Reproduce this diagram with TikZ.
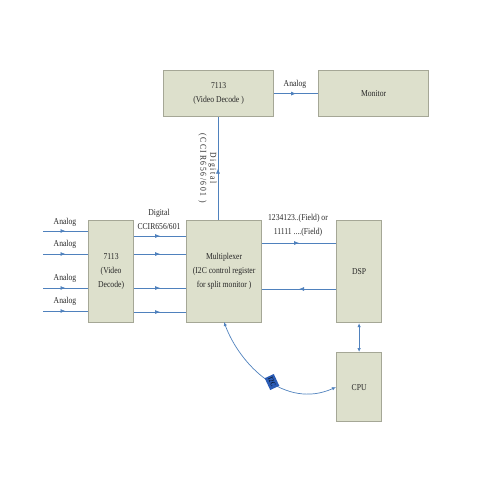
\documentclass[tikz,border=0pt]{standalone}
\usepackage{fontspec}
\setmainfont[FakeStretch=0.85]{Liberation Serif}
\usetikzlibrary{decorations.markings,arrows.meta}
\tikzset{
  blockbox/.style={draw=boxedge, line width=1.2pt, fill=boxfill, inner sep=0pt, anchor=north west,
    align=center, text=black!85, font=\fontsize{9}{14}\selectfont},
  signal/.style={draw=wire, line width=0.7pt, postaction={decorate},
    decoration={markings, mark=at position 0.5 with {\arrow{Latex[length=5pt,width=4pt]}}}},
  bothway/.style={draw=wire, line width=0.7pt, {Latex[length=4pt,width=3.5pt]}-{Latex[length=4pt,width=3.5pt]}},
  siglabel/.style={font=\fontsize{9}{14}\selectfont, align=center, text=black!85, inner sep=0pt}
}
\definecolor{boxfill}{HTML}{DDE0CC}
\definecolor{boxedge}{HTML}{A5A796}
\definecolor{wire}{HTML}{4F81BD}
\definecolor{badge}{HTML}{2B5CB5}
\begin{document}
\begin{tikzpicture}[x=1pt, y=-1pt]
  \useasboundingbox (0,0) rectangle (480,480);

  % the blocks
  \node[blockbox, minimum width=110pt, minimum height=46pt] (top) at (163,70) {7113\\(Video Decode )};
  \node[blockbox, minimum width=110pt, minimum height=46pt] (monitor) at (318,70) {Monitor};
  \node[blockbox, minimum width=45pt, minimum height=102pt] (decode) at (88,220) {7113\\(Video\\Decode)};
  \node[blockbox, minimum width=75pt, minimum height=102pt] (mux) at (186,220)
    {Multiplexer\\(I2C control register\\for split monitor )};
  \node[blockbox, minimum width=45pt, minimum height=102pt] (dsp) at (336,220) {DSP};
  \node[blockbox, minimum width=45pt, minimum height=69pt] (cpu) at (336,352) {CPU};

  % analog inputs and the digital links behind them
  \foreach \n/\yin/\yout/\ylab in {1/231/236/222, 2/254/254/244, 3/288/288/278, 4/311/312/301}{
    \coordinate (in\n) at (43,\yin);
    \draw[signal] (in\n) -- (in\n -| decode.west);
    \node[siglabel] (analog\n) at (65,\ylab) {Analog};
    \coordinate (out\n) at (160,\yout);
    \draw[signal] (out\n -| decode.east) -- (out\n -| mux.west);
  }
  \node[siglabel] (digital) at (159,219) {Digital\\CCIR656/601};

  % top row
  \draw[signal] (top.east) -- (monitor.west);
  \node[siglabel] (analogtop) at (295,84) {Analog};
  \coordinate (up) at (218,170);
  \draw[signal] (up |- mux.north) -- (up |- top.south);
  \node[siglabel, rotate=-90, font=\fontsize{9}{10}\selectfont\addfontfeature{LetterSpace=18}]
    (digitaltop) at (207.5,168) {Digital\\(CCIR656/601 )};

  % multiplexer and DSP
  \coordinate (fwd) at (300,243);
  \coordinate (back) at (300,289);
  \draw[signal] (fwd -| mux.east) -- (fwd -| dsp.west);
  \draw[signal] (back -| dsp.west) -- (back -| mux.east);
  \node[siglabel] (field) at (298,225) {1234123..(Field) or\\11111 ....(Field)};

  % DSP and CPU
  \draw[bothway] (dsp) -- (cpu);

  % the I2C bus
  \coordinate (busend) at (224,322);
  \draw[bothway] (busend) .. controls (240,365) and (285,410) .. (cpu.west);
  \node[fill=badge, rotate=-65, font=\fontsize{7}{7}\selectfont, text=black, inner sep=1pt, minimum height=10pt, minimum width=13pt] (bus) at (272,382) {I2C};
\end{tikzpicture}
\end{document}
